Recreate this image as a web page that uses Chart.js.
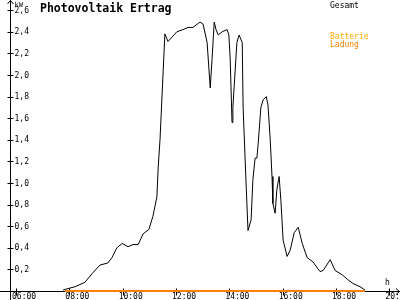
<!DOCTYPE html>
<html>
<head>
<meta charset="utf-8">
<title>Photovoltaik Ertrag</title>
<script src="https://cdn.jsdelivr.net/npm/chart.js@4/dist/chart.umd.min.js"></script>
<style>
  html, body { margin: 0; padding: 0; background: #fff; }
  canvas { display: block; }
</style>
</head>
<body>
<canvas id="chart" width="400" height="300"></canvas>
<script>
// Gesamt (kW) over the day
const gesamtTimes = [
  "07:46", "08:13", "08:35", "08:51", "09:09", "09:27", "09:36", "09:47", "09:59",
  "10:12", "10:23", "10:35", "10:46", "10:59",
  "11:08", "11:17", "11:20", "11:24", "11:35", "11:42", "11:51",
  "12:02", "12:16", "12:27", "12:38", "12:54",
  "13:01", "13:10", "13:17", "13:21", "13:26", "13:30", "13:35", "13:44", "13:55", "13:59",
  "14:02", "14:06", "14:08", "14:17", "14:22", "14:29", "14:31", "14:38", "14:42", "14:49", "14:53", "14:58",
  "15:02", "15:05", "15:11", "15:16", "15:23", "15:27", "15:32", "15:36", "15:38", "15:43", "15:47", "15:52", "15:56",
  "16:01", "16:10", "16:17", "16:26", "16:35", "16:44", "16:55",
  "17:08", "17:24", "17:31", "17:47", "17:58",
  "18:14", "18:25", "18:38", "18:54",
  "19:05",
];
const gesamtKw = [
  0.01, 0.04, 0.08, 0.16, 0.24, 0.26, 0.31, 0.40, 0.44,
  0.41, 0.43, 0.43, 0.53, 0.57,
  0.69, 0.87, 1.15, 1.40, 2.38, 2.31, 2.35,
  2.40, 2.42, 2.44, 2.44, 2.49,
  2.47, 2.30, 1.88, 2.14, 2.49, 2.42, 2.37, 2.40, 2.42, 2.37,
  2.14, 1.56, 1.70, 2.30, 2.37, 2.30, 1.70, 0.96, 0.56, 0.66, 1.03, 1.23,
  1.23, 1.37, 1.70, 1.77, 1.80, 1.72, 1.40, 1.06, 0.81, 0.72, 0.94, 1.06, 0.84,
  0.47, 0.32, 0.38, 0.54, 0.59, 0.44, 0.31,
  0.27, 0.18, 0.19, 0.29, 0.19,
  0.15, 0.11, 0.07, 0.04,
  0.01,
];

// Batterie Ladung (kW), flat at zero
const ladungTimes = ["07:50", "19:05"];
const ladungKw = [0, 0];

const yTicks = [0.2, 0.4, 0.6, 0.8, 1.0, 1.2, 1.4, 1.6, 1.8, 2.0, 2.2, 2.4, 2.6];
const yTickLabels = ["0,2", "0,4", "0,6", "0,8", "1,0", "1,2", "1,4", "1,6", "1,8", "2,0", "2,2", "2,4", "2,6"];
const xTicks = [6, 8, 10, 12, 14, 16, 18, 20];
const xTickLabels = ["06:00", "08:00", "10:00", "12:00", "14:00", "16:00", "18:00", "20:00"];

const toHours = (t) => {
  const [h, m] = t.split(":").map(Number);
  return h + m / 60;
};
const toPoints = (times, values) =>
  times.map((t, i) => ({ x: toHours(t), y: values[i] }));

const smallFont = "8px 'DejaVu Sans Mono', monospace";

const axesPlugin = {
  id: "axes",
  beforeDatasetsDraw(chart) {
    const { ctx, chartArea, scales } = chart;
    const x0 = Math.round(scales.x.getPixelForValue(scales.x.min)) + 0.5;
    const y0 = Math.round(scales.y.getPixelForValue(0)) + 0.5;
    ctx.save();
    ctx.strokeStyle = "#000";
    ctx.lineWidth = 1;
    ctx.beginPath();
    // y axis with arrow
    ctx.moveTo(x0, 0);
    ctx.lineTo(x0, 300);
    ctx.moveTo(x0 - 3, 4);
    ctx.lineTo(x0, 0.5);
    ctx.lineTo(x0 + 3, 4);
    // x axis with arrow
    ctx.moveTo(0, y0);
    ctx.lineTo(chartArea.right, y0);
    ctx.moveTo(chartArea.right - 4, y0 - 3);
    ctx.lineTo(chartArea.right - 0.5, y0);
    ctx.lineTo(chartArea.right - 4, y0 + 3);
    // ticks
    yTicks.forEach((v) => {
      const py = Math.round(scales.y.getPixelForValue(v)) + 0.5;
      ctx.moveTo(x0 - 3, py);
      ctx.lineTo(x0 + 3, py);
    });
    xTicks.forEach((v) => {
      const px = Math.round(scales.x.getPixelForValue(v)) + 0.5;
      ctx.moveTo(px, y0 - 3);
      ctx.lineTo(px, y0 + 4);
    });
    ctx.stroke();

    ctx.fillStyle = "#000";
    ctx.font = smallFont;
    ctx.textBaseline = "middle";
    ctx.textAlign = "left";
    yTicks.forEach((v, i) => {
      const py = scales.y.getPixelForValue(v);
      ctx.fillText(yTickLabels[i], x0 + 4, py + 0.5);
    });
    ctx.textBaseline = "alphabetic";
    xTicks.forEach((v, i) => {
      const px = scales.x.getPixelForValue(v);
      ctx.fillText(xTickLabels[i], px - 4, 299);
    });
    ctx.font = "7px 'DejaVu Sans Mono', monospace";
    ctx.fillText("kW", x0 + 4, 7);
    ctx.font = smallFont;
    ctx.fillText("h", 385, 285);
    ctx.restore();
  },
  afterDraw(chart) {
    const { ctx } = chart;
    ctx.save();
    ctx.textAlign = "left";
    ctx.textBaseline = "alphabetic";
    ctx.font = "bold 11.5px 'DejaVu Sans Mono', monospace";
    ctx.fillStyle = "#000";
    ctx.fillText("Photovoltaik Ertrag", 40, 12);
    ctx.font = smallFont;
    ctx.fillText("Gesamt", 330, 8);
    ctx.fillStyle = "#ffa800";
    ctx.fillText("Batterie", 330, 39);
    ctx.fillStyle = "#ff8000";
    ctx.fillText("Ladung", 330, 47);
    ctx.restore();
  },
};

new Chart(document.getElementById("chart"), {
  type: "line",
  data: {
    datasets: [
      {
        label: "Gesamt",
        data: toPoints(gesamtTimes, gesamtKw),
        borderColor: "#000",
        borderWidth: 1,
        pointRadius: 0,
        tension: 0,
        clip: false,
      },
      {
        label: "Batterie Ladung",
        data: toPoints(ladungTimes, ladungKw),
        borderColor: "#ff8000",
        borderWidth: 2,
        pointRadius: 0,
        tension: 0,
        clip: false,
      },
    ],
  },
  options: {
    responsive: false,
    animation: false,
    devicePixelRatio: 1,
    layout: { padding: { left: 10, right: 0, top: 0, bottom: 9 } },
    plugins: {
      legend: { display: false },
      tooltip: { enabled: false },
    },
    scales: {
      x: { type: "linear", min: 5.775, max: 20.4, display: false },
      y: { type: "linear", min: 0, max: 2.694, display: false },
    },
  },
  plugins: [axesPlugin],
});
</script>
</body>
</html>
